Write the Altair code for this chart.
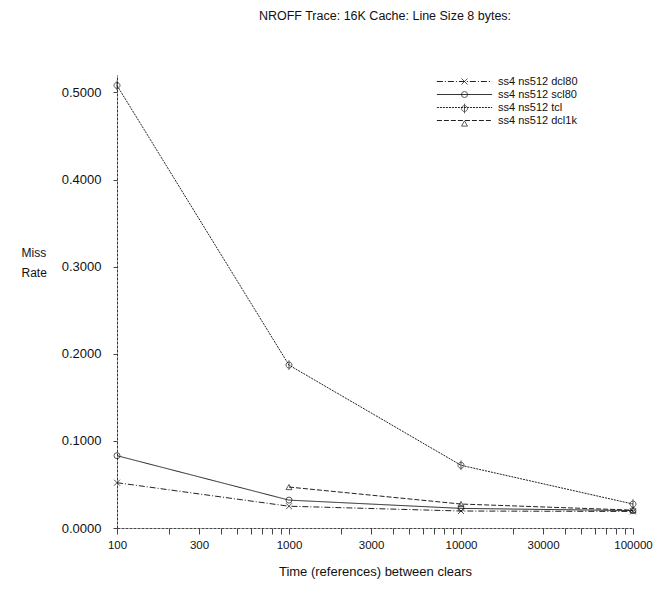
import altair as alt
import pandas as pd

# ---- data ----
series_names = ["ss4 ns512 dcl80", "ss4 ns512 scl80", "ss4 ns512 tcl", "ss4 ns512 dcl1k"]
marker_names = ["x-mark", "circle-mark", "circle-bar-mark", "triangle-mark"]
clear_times = [100, 1000, 10000, 100000]
dcl80 = [0.052, 0.025, 0.0195, 0.0190]
scl80 = [0.083, 0.032, 0.0225, 0.0200]
tcl = [0.508, 0.187, 0.072, 0.0275]
dcl1k = [None, 0.047, 0.0275, 0.0205]

x_tick_values = [100, 200, 300, 400, 500, 600, 700, 800, 900,
                 1000, 2000, 3000, 4000, 5000, 6000, 7000, 8000, 9000,
                 10000, 20000, 30000, 40000, 50000, 60000, 70000, 80000, 90000,
                 100000]
x_label_values = [100, 300, 1000, 3000, 10000, 30000, 100000]
y_tick_values = [0.0, 0.1, 0.2, 0.3, 0.4, 0.5]

rows = []
for name, mk, vals in zip(series_names, marker_names, [dcl80, scl80, tcl, dcl1k]):
    for t, v in zip(clear_times, vals):
        if v is not None:
            rows.append({"time": t, "rate": v, "series": name, "marker": mk})
df = pd.DataFrame(rows)

dash_range = [[6, 2, 1, 2], [1, 0], [2, 1], [5, 2]]
shape_range = [
    "M-1,-1L1,1M-1,1L1,-1",
    "circle",
    "M-1,0A1,1,0,1,0,1,0A1,1,0,1,0,-1,0ZM0,-1.6V1.6",
    "triangle-up",
]

font = "Liberation Sans"
label_expr = f"indexof({x_label_values}, datum.value) >= 0 ? format(datum.value, 'd') : ''"

x_enc = alt.X(
    "time:Q",
    scale=alt.Scale(type="log", domain=[100, 100000]),
    axis=alt.Axis(
        values=x_tick_values,
        labelExpr=label_expr,
        labelFlush=False,
        title="Time (references) between clears",
        grid=False,
        tickSize=6,
        labelPadding=5,
        titlePadding=15,
        labelFontSize=11.5,
        titleFontSize=13,
        domainDash=[3, 1],
        tickColor="#444",
        domainColor="#444",
    ),
)
y_enc = alt.Y(
    "rate:Q",
    scale=alt.Scale(domain=[0, 0.52], nice=False),
    axis=alt.Axis(
        values=y_tick_values,
        format=".4f",
        title=["Miss", "Rate"],
        titleAngle=0,
        titleAlign="left",
        titleBaseline="top",
        titleX=-96,
        titleY=172,
        titleLineHeight=20,
        titleFontSize=12,
        labelFontSize=13,
        grid=False,
        tickSize=4,
        labelPadding=12,
        domainDash=[3, 1],
        tickColor="#444",
        domainColor="#333",
    ),
)

lines = alt.Chart(df).mark_line(color="#222", strokeWidth=1).encode(
    x=x_enc,
    y=y_enc,
    strokeDash=alt.StrokeDash(
        "series:N",
        scale=alt.Scale(domain=series_names, range=dash_range),
        legend=alt.Legend(
            title=None,
            orient="none",
            legendX=342,
            legendY=1,
            symbolType="M-9.2,0H9.2",
            symbolSize=36,
            symbolStrokeColor="#222",
            symbolStrokeWidth=1,
            labelOffset=28,
            labelFontSize=11,
            labelFont=font,
            labelColor="#111",
            rowPadding=1,
            padding=0,
            labelLimit=300,
        ),
    ),
    detail="series:N",
)

points = alt.Chart(df).mark_point(color="#111", filled=False, size=36, strokeWidth=1).encode(
    x="time:Q",
    y="rate:Q",
    shape=alt.Shape(
        "marker:N",
        scale=alt.Scale(domain=marker_names, range=shape_range),
        legend=alt.Legend(
            title=None,
            orient="none",
            legendX=342,
            legendY=1,
            symbolSize=36,
            symbolStrokeColor="#111",
            symbolStrokeWidth=1,
            labelExpr="''",
            labelFontSize=11,
            labelFont=font,
            rowPadding=1,
            padding=0,
        ),
    ),
)

chart = (
    alt.layer(lines, points)
    .properties(
        width=516,
        height=453,
        autosize=alt.AutoSizeParams(type="none"),
        padding={"left": 109, "top": 67, "right": 25, "bottom": 53},
        title=alt.TitleParams(
            text="NROFF Trace: 16K Cache: Line Size 8 bytes:",
            fontSize=12.5,
            fontWeight="normal",
            font=font,
            color="#111",
            frame="group",
            offset=53,
            dx=10,
        ),
    )
    .configure_view(stroke=None)
    .configure_axis(
        labelFont=font,
        titleFont=font,
        titleFontWeight="normal",
        labelColor="#111",
        titleColor="#111",
    )
)

chart.save("out.html", embed_options={"renderer": "svg", "actions": False})
